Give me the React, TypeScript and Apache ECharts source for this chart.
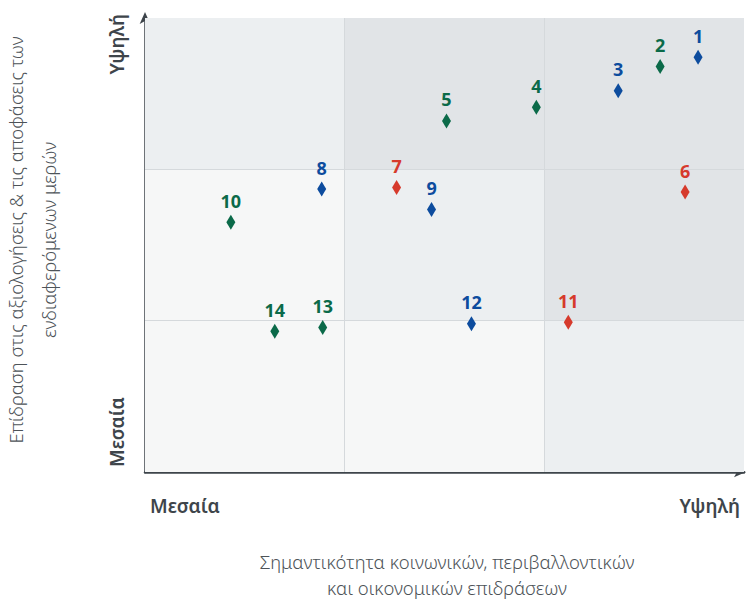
import React, { useEffect, useRef } from "react";
import * as echarts from "echarts";

// ---- data ----
const pointIds = ["1", "2", "3", "4", "5", "6", "7", "8", "9", "10", "11", "12", "13", "14"];
const impactValues = [2.77, 2.58, 2.37, 1.96, 1.51, 2.705, 1.26, 0.885, 1.435, 0.43, 2.12, 1.635, 0.89, 0.65];
const stakeholderValues = [2.74, 2.68, 2.52, 2.41, 2.32, 1.85, 1.88, 1.87, 1.735, 1.65, 0.99, 0.98, 0.955, 0.93];
const pointGroups = ["blue", "green", "blue", "green", "green", "red", "red", "blue", "blue", "green", "red", "blue", "green", "green"];

const groupNames = ["blue", "green", "red"];
const groupColors: Record<string, string> = { blue: "#0d4c9e", green: "#0b6a49", red: "#d63a2c" };

// cell shading, rows from bottom (row 0) to top (row 2), columns left to right
const cellShades = [
  ["light", "light", "mid"],
  ["light", "mid", "dark"],
  ["mid", "dark", "dark"],
];
const shadeColors: Record<string, string> = { light: "#f6f7f7", mid: "#eceff1", dark: "#e1e4e7" };
const dividers = [1, 2];

const axisMinLabel = "Μεσαία";
const axisMaxLabel = "Υψηλή";
const xAxisTitle = ["Σημαντικότητα κοινωνικών, περιβαλλοντικών", "και οικονομικών επιδράσεων"];
const yAxisTitle = ["Επίδραση στις αξιολογήσεις & τις αποφάσεις των", "ενδιαφερόμενων μερών"];

const AXIS_COLOR = "#3e454b";
const FONT = "'Noto Sans', 'Open Sans', sans-serif";

export default function App() {
  const ref = useRef<HTMLDivElement>(null);

  useEffect(() => {
    document.body.style.margin = "0";
    if (!ref.current) return;
    const chart = echarts.init(ref.current, null, { renderer: "svg" });

    const markAreaData: any[] = [];
    cellShades.forEach((row, r) => {
      row.forEach((shade, c) => {
        markAreaData.push([
          { xAxis: c, yAxis: r, itemStyle: { color: shadeColors[shade], opacity: 1 } },
          { xAxis: c + 1, yAxis: r + 1 },
        ]);
      });
    });

    const markLineData: any[] = [
      ...dividers.map((d) => ({ xAxis: d })),
      ...dividers.map((d) => ({ yAxis: d })),
    ];

    const scatterSeries = groupNames.map((g) => ({
      type: "scatter",
      name: g,
      symbol: "diamond",
      symbolSize: [9, 15],
      itemStyle: { color: groupColors[g], opacity: 1 },
      z: 3,
      label: {
        show: true,
        position: "top",
        distance: 5,
        formatter: (p: any) => p.value[2],
        color: groupColors[g],
        fontSize: 18,
        fontWeight: "bold",
        fontFamily: FONT,
      },
      data: pointIds
        .map((id, i) => ({ id, i }))
        .filter(({ i }) => pointGroups[i] === g)
        .map(({ id, i }) => [impactValues[i], stakeholderValues[i], id]),
    }));

    chart.setOption({
      animation: false,
      grid: { left: 145, right: 2, top: 18, bottom: 127 },
      xAxis: {
        type: "value",
        min: 0,
        max: 3,
        interval: 1,
        axisLine: {
          show: true,
          symbol: ["none", "arrow"],
          symbolSize: [8, 12],
          symbolOffset: [0, 2],
          lineStyle: { color: AXIS_COLOR, width: 2.5 },
        },
        axisTick: { show: false },
        axisLabel: { show: false },
        splitLine: { show: false },
      },
      yAxis: {
        type: "value",
        min: 0,
        max: 3,
        interval: 1,
        axisLine: {
          show: true,
          symbol: ["none", "arrow"],
          symbolSize: [8, 12],
          symbolOffset: [0, 6],
          lineStyle: { color: AXIS_COLOR, width: 2.5 },
        },
        axisTick: { show: false },
        axisLabel: { show: false },
        splitLine: { show: false },
      },
      series: [
        {
          type: "scatter",
          name: "bg",
          data: [],
          silent: true,
          markArea: { silent: true, z: 1, data: markAreaData },
          markLine: {
            silent: true,
            z: 1.5,
            symbol: ["none", "none"],
            label: { show: false },
            lineStyle: { color: "#d5d9dc", width: 1, type: "solid" },
            data: markLineData,
          },
        },
        ...scatterSeries,
      ],
      graphic: [
        {
          type: "text",
          left: 150,
          top: 496,
          style: { text: axisMinLabel, fill: AXIS_COLOR, font: `600 19px ${FONT}` },
        },
        {
          type: "text",
          right: 6,
          top: 496,
          style: { text: axisMaxLabel, fill: AXIS_COLOR, font: `600 19px ${FONT}` },
        },
        {
          type: "text",
          x: 117,
          y: 467,
          rotation: Math.PI / 2,
          style: {
            text: axisMinLabel,
            fill: AXIS_COLOR,
            font: `600 19px ${FONT}`,
            align: "left",
            verticalAlign: "middle",
          },
        },
        {
          type: "text",
          x: 117,
          y: 14,
          rotation: Math.PI / 2,
          style: {
            text: axisMaxLabel,
            fill: AXIS_COLOR,
            font: `600 19px ${FONT}`,
            align: "right",
            verticalAlign: "middle",
          },
        },
        {
          type: "text",
          x: 447,
          y: 574,
          style: {
            text: xAxisTitle.join("\n"),
            fill: "#4d5358",
            font: `300 18.5px ${FONT}`,
            lineHeight: 26,
            align: "center",
            verticalAlign: "middle",
          },
        },
        {
          type: "text",
          x: 32,
          y: 240,
          rotation: Math.PI / 2,
          style: {
            text: yAxisTitle.join("\n"),
            fill: "#4d5358",
            font: `300 18.5px ${FONT}`,
            lineHeight: 33,
            align: "center",
            verticalAlign: "middle",
          },
        },
      ],
    });

    return () => chart.dispose();
  }, []);

  return <div ref={ref} style={{ width: 746, height: 599 }} />;
}
